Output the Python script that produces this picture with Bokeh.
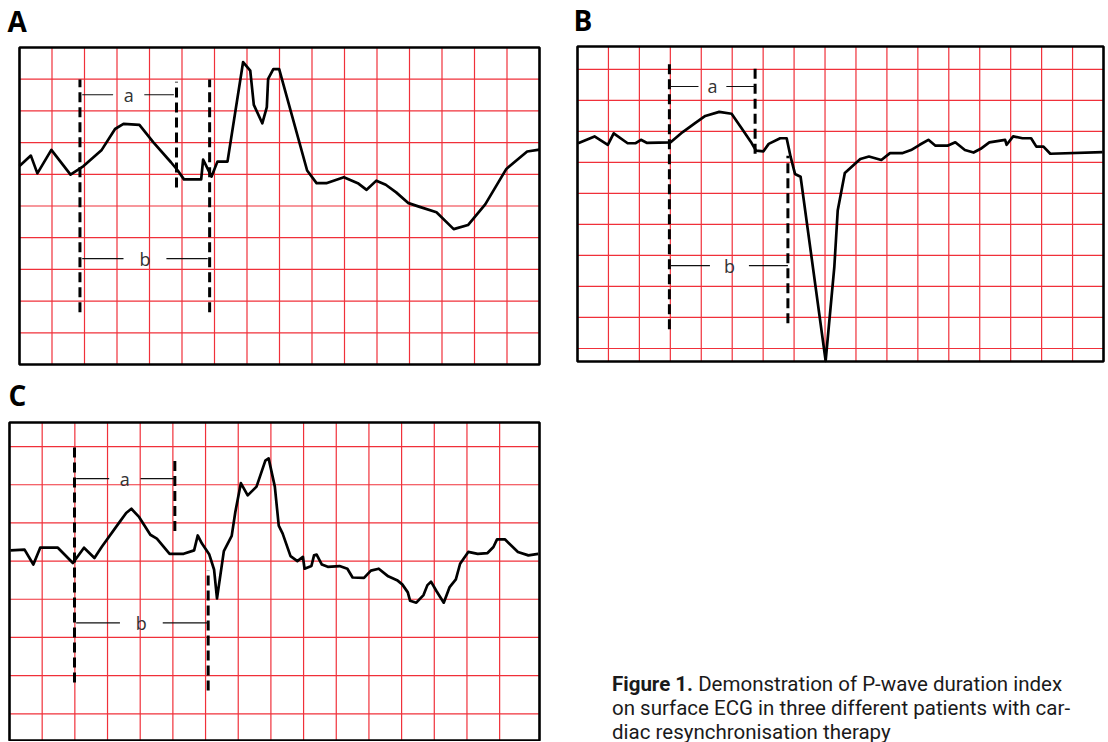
from bokeh.plotting import figure
from bokeh.models import Range1d
from bokeh.models import Div
from bokeh.layouts import row, column
from bokeh.embed import file_html
from bokeh.resources import INLINE
from bokeh.core.properties import value

# ---------------- Panel A ----------------
A_x = [0, 0.35, 0.55, 0.98, 1.57, 1.97, 2.53, 2.94, 3.2, 3.69, 4.12, 4.66, 4.87, 5.06,
       5.59, 5.65, 5.91, 6.09, 6.4, 6.88, 7.1, 7.21, 7.47, 7.61, 7.65, 7.81, 7.99, 8.85,
       9.14, 9.44, 9.98, 10.41, 10.68, 10.98, 11.27, 11.59, 11.97, 12.29, 12.83, 13.36,
       13.8, 14.33, 14.98, 15.62, 16.0]
A_y = [6.26, 6.59, 6.03, 6.77, 5.99, 6.26, 6.77, 7.43, 7.59, 7.56, 7.01, 6.38, 6.12, 5.84,
       5.84, 6.46, 5.93, 6.4, 6.4, 9.54, 9.27, 8.19, 7.61, 8.12, 9.01, 9.32, 9.32, 6.12,
       5.72, 5.72, 5.91, 5.72, 5.51, 5.8, 5.67, 5.43, 5.09, 4.98, 4.8, 4.27,
       4.4, 5.05, 6.17, 6.72, 6.78]
A_grid_x = list(range(1, 16))
A_grid_y = list(range(1, 10))
A_mark_x = [1.86, 4.83, 5.85]
A_mark_y0 = [1.65, 5.58, 1.65]
A_mark_y1 = [8.99, 8.92, 8.99]
A_int_text = ["a", "b"]
A_int_y = [8.51, 3.34]
A_int_x0 = [1.93, 1.93]
A_int_x1 = [4.75, 5.79]
A_int_g0 = [2.88, 3.2]
A_int_g1 = [3.84, 4.52]

# ---------------- Panel B ----------------
B_x = [0.02, 0.55, 0.98, 1.17, 1.62, 1.88, 2.05, 2.25, 3.01, 3.4, 3.8, 4.13, 4.58, 4.98,
       5.32, 5.6, 5.77, 6.01, 6.18, 6.55, 6.76, 6.89, 7.03, 7.21, 8.02, 8.3, 8.41, 8.64,
       9.14, 9.42, 9.82, 10.1, 10.49, 10.78, 11.06, 11.34, 11.57, 11.96, 12.21, 12.52,
       12.8, 13.03, 13.31, 13.82, 13.87, 14.08, 14.38, 14.66, 14.83, 15.06, 15.28, 16.97]
B_y = [6.62, 6.84, 6.57, 6.94, 6.62, 6.62, 6.73, 6.63, 6.65, 6.98, 7.27, 7.5, 7.63, 7.57,
       7.08, 6.67, 6.38, 6.36, 6.6, 6.78, 6.78, 6.17, 5.63, 5.54, -0.4, 2.62, 4.45, 5.66,
       6.11, 6.19, 6.08, 6.3, 6.3, 6.4, 6.57, 6.73, 6.54, 6.54, 6.65, 6.4,
       6.32, 6.44, 6.65, 6.73, 6.57, 6.84, 6.78, 6.78, 6.51, 6.51, 6.28, 6.33]
B_grid_x = list(range(1, 17))
B_grid_y = list(range(0, 10))
B_mark_x = [2.97, 5.74, 6.8]
B_mark_y0 = [0.62, 6.28, 0.81]
B_mark_y1 = [9.18, 9.18, 6.22]
B_int_text = ["a", "b"]
B_int_y = [8.45, 2.67]
B_int_x0 = [3.0, 3.0]
B_int_x1 = [5.74, 6.8]
B_int_g0 = [3.91, 4.28]
B_int_g1 = [4.81, 5.54]

# ---------------- Panel C ----------------
C_x = [0.03, 0.46, 0.73, 0.94, 1.48, 1.94, 2.28, 2.6, 2.82, 3.35, 3.57, 3.73, 3.97, 4.31,
       4.51, 4.9, 5.33, 5.65, 5.76, 5.89, 6.11, 6.26, 6.35, 6.56, 6.8, 6.91, 7.08, 7.29,
       7.56, 7.83, 7.93, 8.12, 8.24, 8.36, 8.6, 8.81, 8.98, 9.03, 9.24, 9.32, 9.4, 9.56,
       9.74, 10.1, 10.34, 10.5, 10.85, 11.06, 11.3, 11.59, 11.86, 12.02, 12.19, 12.26,
       12.45, 12.67, 12.79, 12.9, 13.07, 13.29, 13.47, 13.66, 13.79, 14.04, 14.33, 14.63,
       14.81, 14.92, 15.16, 15.56, 15.88, 16.18]
C_y = [4.28, 4.3, 3.91, 4.35, 4.35, 3.95, 4.35, 4.08, 4.37, 5.0, 5.26, 5.37, 5.15, 4.69,
       4.59, 4.19, 4.19, 4.28, 4.67, 4.46, 4.18, 3.78, 3.02, 4.26, 4.66, 5.28, 6.04, 5.72,
       5.95, 6.63, 6.69, 5.95, 4.93, 4.72, 4.13, 4.0, 4.11, 3.8, 3.87, 4.15, 4.17, 3.91,
       3.85, 3.87, 3.8, 3.57, 3.56, 3.75, 3.8, 3.6, 3.5, 3.39, 3.18, 2.96,
       2.91, 3.11, 3.37, 3.46, 3.21, 2.91, 3.32, 3.52, 3.93, 4.24, 4.19, 4.21,
       4.37, 4.57, 4.57, 4.24, 4.15, 4.19]
C_grid_x = list(range(1, 16))
C_grid_y = list(range(0, 8))
C_mark_x = [1.99, 5.06, 6.08]
C_mark_y0 = [0.82, 4.79, 0.61]
C_mark_y1 = [7.0, 6.72, 3.76]
C_int_text = ["a", "b"]
C_int_y = [6.16, 2.38]
C_int_x0 = [2.04, 2.04]
C_int_x1 = [5.06, 6.08]
C_int_g0 = [3.05, 3.38]
C_int_g1 = [4.01, 4.69]

CAPTION_BOLD = "Figure 1."
CAPTION_REST = ["Demonstration of P-wave duration index",
                "on surface ECG in three different patients with car-",
                "diac resynchronisation therapy"]

GRID_RED = "#f0303a"
FONT = "Open Sans"


def make_panel(letter, xs, ys, gx, gy, mx, my0, my1, itext, iy, ix0, ix1, ig0, ig1,
               cw, ch, box, xlim, ylim, letter_px):
    """box = (left, top, right, bottom) of the ECG box in canvas pixels,
    xlim / ylim = grid-unit extent of that box, letter_px = (left, baseline)."""
    l, t, r, b = box
    x0, x1 = xlim
    y0, y1 = ylim
    kx = (r - l) / (x1 - x0)
    ky = (b - t) / (y1 - y0)
    xr = Range1d(x0 - l / kx, x1 + (cw - r) / kx)
    yr = Range1d(y0 - (ch - b) / ky, y1 + t / ky)
    p = figure(width=cw, height=ch, x_range=xr, y_range=yr,
               x_axis_type=None, y_axis_type=None, toolbar_location=None,
               output_backend="svg", min_border=0)
    p.outline_line_color = None
    p.background_fill_color = "white"
    p.border_fill_color = "white"
    p.xgrid.visible = False
    p.ygrid.visible = False
    # red grid
    p.segment(x0=gx, y0=[y0] * len(gx), x1=gx, y1=[y1] * len(gx),
              line_color=GRID_RED, line_width=1.2)
    p.segment(x0=[x0] * len(gy), y0=gy, x1=[x1] * len(gy), y1=gy,
              line_color=GRID_RED, line_width=1.2)
    # trace
    p.line(xs, ys, line_color="black", line_width=2.7, line_join="round")
    # dashed markers
    p.segment(x0=mx, y0=my0, x1=mx, y1=my1, line_color="black",
              line_width=3, line_dash="10 5")
    # interval lines with a gap for the letter
    p.segment(x0=ix0, y0=iy, x1=ig0, y1=iy, line_color="#111111", line_width=1.2)
    p.segment(x0=ig1, y0=iy, x1=ix1, y1=iy, line_color="#111111", line_width=1.2)
    tx = [(g0 + g1) / 2 for g0, g1 in zip(ig0, ig1)]
    p.text(x=tx, y=iy, text=itext, text_align="center", text_baseline="middle",
           text_font=value(FONT), text_font_size="18px", text_color="#333333")
    # box outline
    p.quad(left=[x0], right=[x1], bottom=[y0], top=[y1], fill_color=None,
           line_color="black", line_width=2.6)
    # panel letter
    lx = x0 + (letter_px[0] - l) / kx
    ly = y1 + (t - letter_px[1]) / ky
    p.text(x=[lx], y=[ly], text=[letter], text_align="left", text_baseline="alphabetic",
           text_font=value(FONT), text_font_size="28px", text_font_style="bold",
           text_color="black")
    return p


pA = make_panel("A", A_x, A_y, A_grid_x, A_grid_y, A_mark_x, A_mark_y0, A_mark_y1,
                A_int_text, A_int_y, A_int_x0, A_int_x1, A_int_g0, A_int_g1,
                568, 370, (19, 47, 539, 364), (0, 16), (0, 10), (7, 20))
pB = make_panel("B", B_x, B_y, B_grid_x, B_grid_y, B_mark_x, B_mark_y0, B_mark_y1,
                B_int_text, B_int_y, B_int_x0, B_int_x1, B_int_g0, B_int_g1,
                540, 370, (9, 46, 535, 361), (0, 17), (-0.42, 9.74), (5, 19))
pC = make_panel("C", C_x, C_y, C_grid_x, C_grid_y, C_mark_x, C_mark_y0, C_mark_y1,
                C_int_text, C_int_y, C_int_x0, C_int_x1, C_int_g0, C_int_g1,
                568, 371, (9, 52, 539, 370), (0, 16.22), (-0.7, 7.63), (8, 24))

cap_html = ('<div style="padding-left:44px; padding-top:302px; font-family:Roboto; '
            'font-size:20.5px; line-height:24px; color:#1a1a1a; white-space:nowrap;">'
            '<b>' + CAPTION_BOLD + '</b> ' + CAPTION_REST[0] + '<br>' +
            CAPTION_REST[1] + '<br>' + CAPTION_REST[2] + '</div>')
cap = Div(text=cap_html, width=540, height=371, margin=(0, 0, 0, 0))

layout = column(row(pA, pB), row(pC, cap))
open("out.html", "w").write(file_html(layout, INLINE))
